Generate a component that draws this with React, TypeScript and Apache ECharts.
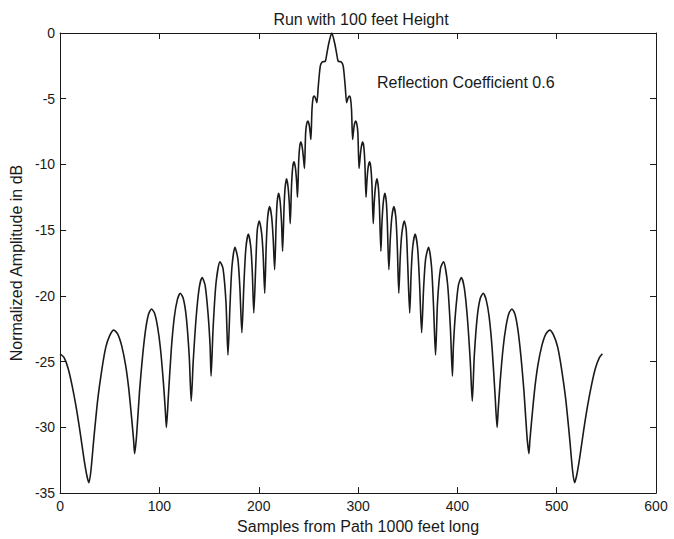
import React, { useEffect, useRef } from "react";
import * as echarts from "echarts";

const chartTitle = "Run with 100 feet Height";
const xAxisName = "Samples from Path 1000 feet long";
const yAxisName = "Normalized Amplitude in dB";
const note = "Reflection Coefficient 0.6";

// [sample, dB], left half of the pattern
const leftSamples: [number, number][] = [
  [0, -24.4], [4, -24.7], [8, -25.5], [12, -26.8], [16, -28.4], [20, -30.3], [24, -32.4], [27, -33.7], [29, -34.2],
  [31, -33.3], [34, -30.8], [38, -27.8], [42, -25.6], [46, -23.9], [50, -23.0], [54, -22.6], [58, -22.9], [62, -23.8], [66, -25.3], [69, -27.0], [72, -29.3], [74, -31.0], [75, -32.0],
  [77, -30.6], [80, -27.2], [83, -24.6], [86, -22.6], [89, -21.4], [92, -21.0], [95, -21.3], [98, -22.3], [101, -24.0], [104, -26.6], [106, -28.8], [107, -30.0],
  [109, -27.6], [112, -24.0], [115, -21.6], [118, -20.3], [121, -19.8], [124, -20.2], [127, -21.6], [130, -24.6], [132, -28.0],
  [134, -25.0], [137, -21.6], [140, -19.4], [143, -18.6], [146, -19.2], [149, -21.4], [151, -23.8], [152, -26.1],
  [154, -22.5], [157, -19.0], [161, -17.4], [164, -17.9], [167, -20.5], [169, -24.5],
  [171, -20.8], [173, -17.8], [176, -16.3], [179, -17.2], [181, -19.4], [183, -22.8],
  [185, -19.2], [187, -16.4], [189.5, -15.3], [192, -16.3], [193.5, -18.2], [195, -21.3],
  [197, -17.6], [198.5, -15.0], [200.5, -14.3], [203, -15.3], [204.5, -17.0], [206, -19.8],
  [207.5, -16.2], [209, -14.0], [211, -13.2], [213, -14.0], [214.5, -15.6], [216, -18.0],
  [217.5, -14.5], [218.5, -12.9], [220, -12.2], [221.5, -12.8], [223, -14.5], [224, -16.6],
  [225.5, -13.2], [226.5, -11.8], [228, -11.1], [229.5, -11.7], [230.8, -13.0], [231.7, -14.5],
  [233, -11.6], [234.2, -10.2], [235.5, -9.8], [237, -10.3], [238.2, -11.4], [239, -12.5],
  [240.2, -9.8], [241.3, -8.6], [242.5, -8.3], [243.8, -8.7], [245, -9.5], [246, -10.3],
  [247.2, -7.6], [248.3, -6.9], [249.5, -6.7], [250.8, -7.0], [251.8, -7.6], [252.5, -8.1],
  [253.6, -5.8], [254.8, -4.9], [256, -4.8], [257.3, -5.0], [258.5, -5.3],
  [260, -4.0], [262, -2.5], [264, -2.2], [267, -2.15], [268.5, -1.6], [270.5, -0.8], [273.5, 0],
];

// right half of the pattern
const rightSamples: [number, number][] = [
  [276.5, -0.8], [278.5, -1.6], [280, -2.15], [283, -2.2], [285, -2.5], [287, -4.0], [288.5, -5.3],
  [289.7, -5.0], [291, -4.8], [292.2, -4.9], [293.4, -5.8],
  [294.5, -8.1], [295.2, -7.6], [296.2, -7.0], [297.5, -6.7], [298.7, -6.9], [299.8, -7.6],
  [301, -10.3], [302, -9.5], [303.2, -8.7], [304.5, -8.3], [305.7, -8.6], [306.8, -9.8],
  [308, -12.5], [308.8, -11.4], [310, -10.3], [311.5, -9.8], [312.8, -10.2], [314, -11.6],
  [315.3, -14.5], [316.2, -13.0], [317.5, -11.7], [319, -11.1], [320.5, -11.8], [321.5, -13.2],
  [323, -16.6], [324, -14.5], [325.5, -12.8], [327, -12.2], [328.5, -12.9], [329.5, -14.5],
  [331, -18.0], [332.5, -15.6], [334, -14.0], [336, -13.2], [338, -14.0], [339.5, -16.2],
  [341, -19.8], [342.5, -17.0], [344, -15.3], [346.5, -14.3], [348.5, -15.0], [350, -17.6],
  [352, -21.3], [353.5, -18.2], [355, -16.3], [357.5, -15.3], [360, -16.4], [362, -19.2],
  [364, -22.8], [366, -19.4], [368, -17.2], [371, -16.3], [374, -17.8], [376, -20.8],
  [378, -24.5], [380, -20.5], [383, -17.9], [386, -17.4], [390, -19.0], [393, -22.5],
  [395, -26.1], [396, -23.8], [398, -21.4], [401, -19.2], [404, -18.6], [407, -19.4], [410, -21.6], [413, -25.0],
  [415, -28.0], [417, -24.6], [420, -21.6], [423, -20.2], [426, -19.8], [429, -20.3], [432, -21.6], [435, -24.0], [438, -27.6],
  [440, -30.0], [441, -28.8], [443, -26.6], [446, -24.0], [449, -22.3], [452, -21.3], [455, -21.0], [458, -21.4], [461, -22.6], [464, -24.6], [467, -27.2], [470, -30.6],
  [472, -32.0], [473, -31.0], [475, -29.3], [478, -27.0], [481, -25.3], [485, -23.8], [489, -22.9], [493, -22.6], [497, -23.0], [501, -23.9], [505, -25.6], [509, -27.8], [513, -30.8], [516, -33.3],
  [518, -34.2], [520, -33.7], [523, -32.4], [527, -30.3], [531, -28.4], [535, -26.8], [539, -25.5], [543, -24.7], [546, -24.4],
];

const xTicks = { min: 0, max: 600, interval: 100 };
const yTicks = { min: -35, max: 0, interval: 5 };

const FONT = "'Liberation Sans', Arial, Helvetica, sans-serif";
const INK = "#1a1a1a";

export default function App() {
  const ref = useRef<HTMLDivElement>(null);
  useEffect(() => {
    if (!ref.current) return;
    const chart = echarts.init(ref.current, undefined, { renderer: "svg" });
    const tickStyle = { show: true, inside: true, length: 6, lineStyle: { color: INK, width: 1 } };
    const lineStyle = { show: true, lineStyle: { color: INK, width: 1 } };
    chart.setOption({
      animation: false,
      backgroundColor: "#fff",
      title: {
        text: chartTitle,
        left: 356,
        textAlign: "center",
        top: 6,
        textStyle: { fontFamily: FONT, fontSize: 16, fontWeight: "normal", color: INK },
      },
      grid: { left: 57, right: 18, top: 33, bottom: 40, show: false },
      xAxis: [
        {
          type: "value",
          ...xTicks,
          position: "bottom",
          name: xAxisName,
          nameLocation: "middle",
          nameGap: 21,
          nameTextStyle: { fontFamily: FONT, fontSize: 16, color: INK },
          axisLine: { ...lineStyle, onZero: false },
          axisTick: tickStyle,
          axisLabel: { fontFamily: FONT, fontSize: 14, color: INK, margin: 6 },
          splitLine: { show: false },
        },
        {
          type: "value",
          ...xTicks,
          position: "top",
          axisLine: { ...lineStyle, onZero: false },
          axisTick: tickStyle,
          axisLabel: { show: false },
          splitLine: { show: false },
        },
      ],
      yAxis: [
        {
          type: "value",
          ...yTicks,
          position: "left",
          name: yAxisName,
          nameLocation: "middle",
          nameGap: 29,
          nameTextStyle: { fontFamily: FONT, fontSize: 16, color: INK },
          axisLine: { ...lineStyle, onZero: false },
          axisTick: tickStyle,
          axisLabel: { fontFamily: FONT, fontSize: 14, color: INK, margin: 5 },
          splitLine: { show: false },
        },
        {
          type: "value",
          ...yTicks,
          position: "right",
          axisLine: { ...lineStyle, onZero: false },
          axisTick: tickStyle,
          axisLabel: { show: false },
          splitLine: { show: false },
        },
      ],
      graphic: [
        {
          type: "text",
          left: 377,
          top: 74,
          style: { text: note, fontFamily: FONT, fontSize: 16, fill: INK },
        },
      ],
      series: [
        {
          type: "line",
          xAxisIndex: 0,
          yAxisIndex: 0,
          data: [...leftSamples, ...rightSamples],
          showSymbol: false,
          smooth: 0.25,
          lineStyle: { color: INK, width: 1.6 },
        },
      ],
    });
    return () => chart.dispose();
  }, []);
  return <div ref={ref} style={{ width: 674, height: 539, position: "absolute", left: 0, top: 0 }} />;
}
